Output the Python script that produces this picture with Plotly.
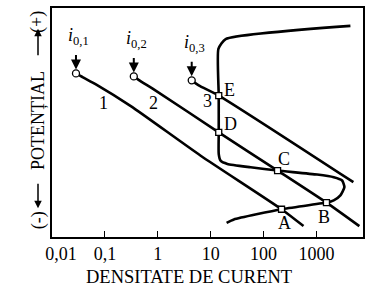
import math
import plotly.graph_objects as go

# ---- data (current density, potential in arbitrary units) ----
line1_i = [0.0284, 0.0385, 0.0676, 0.309, 6.48, 218.6, 569]
line1_E = [165, 161, 154, 132, 82, 28, 11]

line2_i = [0.352, 0.478, 0.84, 14.2, 184, 1545, 6475]
line2_E = [162, 157, 149, 105.5, 67, 34.7, 11]

line3_i = [4.38, 5.94, 14.2, 4990]
line3_E = [158, 153, 142.7, 55.3]

pas_i = [20.0, 27.5, 218.6, 1545, 2120, 2836, 3375, 3055, 2120, 1031, 184,
         56.9, 20.7, 15.4, 14.2, 14.2, 14.2, 14.0, 19.2, 4385]
pas_E = [14.3, 17.7, 28, 34.7, 37, 42, 50.3, 57, 60.3, 63, 67,
         70.3, 73.7, 77, 83.7, 105.5, 142.7, 189.7, 199.7, 213]

i0_i = [0.0284, 0.352, 4.38]
i0_E = [165, 162, 158]
i0_labels = ["<i>i</i><sub>0,1</sub>", "<i>i</i><sub>0,2</sub>", "<i>i</i><sub>0,3</sub>"]

pts_i = [218.6, 1545, 184, 14.2, 14.2]
pts_E = [28, 34.7, 67, 105.5, 142.7]
pts_labels = ["A", "B", "C", "D", "E"]

num_i = [0.0958, 0.84, 8.78]
num_E = [135, 135, 137]
num_labels = ["1", "2", "3"]

tick_vals = [0.01, 0.1, 1, 10, 100, 1000]
tick_text = ["\u00a0\u00a0\u00a0\u00a00,01", "0,1", "1", "10", "100", "1000"]
x_title = "DENSITATE DE CURENT"

FONT = "Liberation Serif"
FS = 18
BLACK = "black"

fig = go.Figure()
lw = 2.6
for xs, ys in [(line1_i, line1_E), (line2_i, line2_E), (line3_i, line3_E)]:
    fig.add_trace(go.Scatter(x=xs, y=ys, mode="lines",
                             line=dict(color=BLACK, width=lw, shape="spline", smoothing=0.6),
                             hoverinfo="skip", showlegend=False))
fig.add_trace(go.Scatter(x=pas_i, y=pas_E, mode="lines",
                         line=dict(color=BLACK, width=lw, shape="spline", smoothing=0.5),
                         hoverinfo="skip", showlegend=False))
fig.add_trace(go.Scatter(x=i0_i, y=i0_E, mode="markers",
                         marker=dict(symbol="circle", size=7, color="white",
                                     line=dict(color=BLACK, width=1.3)),
                         hoverinfo="skip", showlegend=False))
fig.add_trace(go.Scatter(x=pts_i, y=pts_E, mode="markers",
                         marker=dict(symbol="square", size=6, color="white",
                                     line=dict(color=BLACK, width=1.3)),
                         hoverinfo="skip", showlegend=False))

lg = math.log10
ann = []
# i0 labels and arrows
for xi, yi, lab in zip(i0_i, i0_E, i0_labels):
    ann.append(dict(x=lg(xi), y=yi, xref="x", yref="y", text=lab, showarrow=False,
                    yshift=37, xshift=3, font=dict(family=FONT, size=FS, color=BLACK)))
    ann.append(dict(x=lg(xi), y=yi, xref="x", yref="y", text="", showarrow=True,
                    ax=0, ay=-20, standoff=4, arrowhead=2, arrowsize=1,
                    arrowwidth=2, arrowcolor=BLACK))
# intersection labels
offs = [(3, -14), (-2, -14), (6, 12), (12, 8), (11, 6)]
for xi, yi, lab, (dx, dy) in zip(pts_i, pts_E, pts_labels, offs):
    ann.append(dict(x=lg(xi), y=yi, xref="x", yref="y", text=lab, showarrow=False,
                    xshift=dx, yshift=dy, font=dict(family=FONT, size=FS, color=BLACK)))
# curve numbers
for xi, yi, lab in zip(num_i, num_E, num_labels):
    ann.append(dict(x=lg(xi), y=yi, xref="x", yref="y", text=lab, showarrow=False,
                    font=dict(family=FONT, size=FS, color=BLACK)))

# x-axis title
ann.append(dict(x=0.4405, y=-0.173, xref="paper", yref="paper", text=x_title,
                showarrow=False, xanchor="center", yanchor="middle",
                font=dict(family=FONT, size=18.5, color=BLACK)))

# y-axis title pieces
ytitle = [("(+)", 217), ("POTENȚIAL", 117), ("(-)", 17)]
for t, yv in ytitle:
    ann.append(dict(x=0, y=yv, xref="paper", yref="y", text=t, showarrow=False,
                    textangle=-90, xshift=-14, xanchor="center", yanchor="middle",
                    font=dict(family=FONT, size=FS, color=BLACK)))
ann.append(dict(x=0, y=210, xref="paper", yref="y", text="", showarrow=True,
                xshift=-14, ax=0, ay=28, arrowhead=2, arrowsize=1, arrowwidth=1.5,
                arrowcolor=BLACK))
ann.append(dict(x=0, y=29, xref="paper", yref="y", text="", showarrow=True,
                xshift=-14, ax=0, ay=-26, arrowhead=2, arrowsize=1, arrowwidth=1.5,
                arrowcolor=BLACK))

fig.update_layout(
    width=372, height=293,
    margin=dict(l=52, r=9, t=6, b=56),
    paper_bgcolor="white", plot_bgcolor="white",
    font=dict(family=FONT, size=FS, color=BLACK),
    annotations=ann,
    xaxis=dict(type="log", range=[-2.0, 3.88], tickvals=tick_vals, ticktext=tick_text,
               ticks="inside", ticklen=6, tickwidth=1, tickcolor=BLACK,
               showline=True, linecolor=BLACK, linewidth=1.5, mirror=True,
               showgrid=False, zeroline=False,
               tickfont=dict(family=FONT, size=FS, color=BLACK)),
    yaxis=dict(range=[0, 231], showticklabels=False, ticks="",
               showline=True, linecolor=BLACK, linewidth=1.5, mirror=True,
               showgrid=False, zeroline=False),
)

fig.write_html("out.html")
